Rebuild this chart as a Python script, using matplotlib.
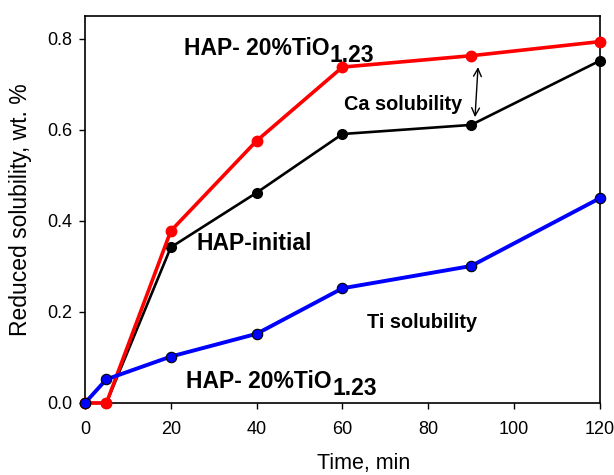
import matplotlib
matplotlib.use("Agg")
import matplotlib.pyplot as plt

plt.rcParams['font.family'] = ['Liberation Sans', 'DejaVu Sans']

time = [0, 5, 20, 40, 60, 90, 120]
hap_initial = [0.0, 0.0, 0.342, 0.462, 0.591, 0.611, 0.752]
hap_tio_ca = [0.0, 0.0, 0.378, 0.576, 0.738, 0.763, 0.794]
hap_tio_ti = [0.0, 0.052, 0.102, 0.152, 0.252, 0.301, 0.45]

xticks = [0, 20, 40, 60, 80, 100, 120]
yticks = [0.0, 0.2, 0.4, 0.6, 0.8]

fig = plt.figure(figsize=(6.14, 4.75), dpi=100)
ax = fig.add_axes([0.1384, 0.1516, 0.977 - 0.1384, 0.967 - 0.1516])

ax.plot(time, hap_initial, color='black', lw=1.9, marker='o', ms=7,
        mfc='black', mec='black', clip_on=False, zorder=3)
ax.plot(time, hap_tio_ca, color='#ff0000', lw=2.6, marker='o', ms=7.5,
        mfc='#ff0000', mec='#ff0000', clip_on=False, zorder=4)
ax.plot(time, hap_tio_ti, color='#0000ff', lw=2.8, marker='o', ms=7.5,
        mfc='#0000ff', mec='black', mew=0.8, clip_on=False, zorder=5)

ax.set_xlim(0, 120)
ax.set_ylim(0, 0.851)
ax.set_xticks(xticks)
ax.set_xticklabels([str(v) for v in xticks])
ax.set_yticks(yticks)
ax.set_yticklabels([f"{v:.1f}" for v in yticks])
ax.tick_params(direction='out', length=4, width=1, labelsize=13, pad=5)
ax.tick_params(axis='x', pad=9)
for s in ax.spines.values():
    s.set_linewidth(1.2)

ax.set_xlabel("Time, min", fontsize=15.5)
ax.xaxis.set_label_coords(0.542, -0.13)
ax.set_ylabel("Reduced solubility, wt. %", fontsize=16.5)
ax.yaxis.set_label_coords(-0.103, 0.5)

bold = dict(fontsize=16.5, fontweight='bold', color='black')

t1 = ax.text(23.0, 0.765, "HAP- 20%TiO", ha='left', va='baseline', **bold)
ax.annotate("1.23", xy=(1, 0), xycoords=t1, xytext=(0.5, -5),
            textcoords='offset points', ha='left', va='bottom', **bold)

t2 = ax.text(23.5, 0.033, "HAP- 20%TiO", ha='left', va='baseline', **bold)
ax.annotate("1.23", xy=(1, 0), xycoords=t2, xytext=(0.5, -5),
            textcoords='offset points', ha='left', va='bottom', **bold)

ax.text(26.0, 0.336, "HAP-initial", ha='left', va='baseline', **bold)
ax.text(60.4, 0.644, "Ca solubility", ha='left', va='baseline',
        fontsize=14.3, fontweight='bold')
ax.text(65.7, 0.165, "Ti solubility", ha='left', va='baseline',
        fontsize=14.3, fontweight='bold')

ax.annotate("", xy=(91.6, 0.738), xytext=(90.9, 0.628),
            arrowprops=dict(arrowstyle='<->', color='black', lw=1.0,
                            shrinkA=0, shrinkB=0, mutation_scale=14))

fig.savefig("out.png", dpi=100)
